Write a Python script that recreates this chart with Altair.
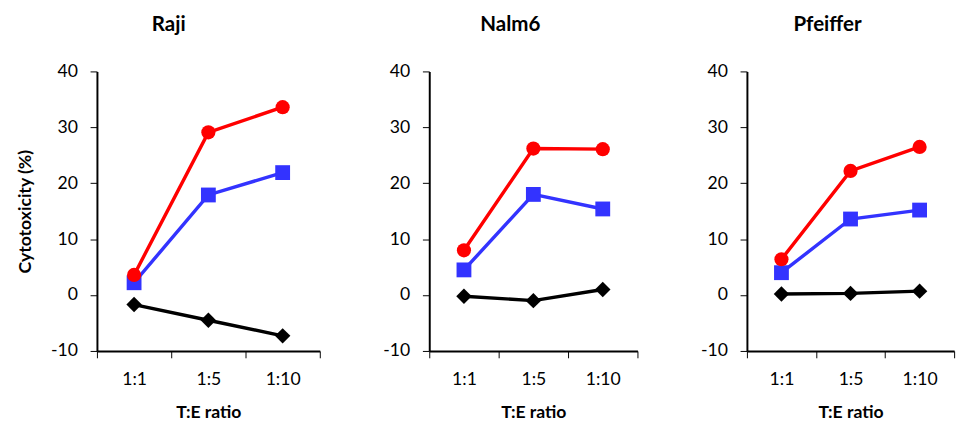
import altair as alt
import pandas as pd

panels = ["Raji", "Nalm6", "Pfeiffer"]
ratios = ["1:1", "1:5", "1:10"]
series = ["Control", "Group B", "Group A"]  # drawn black, blue, red
colors = ["#000000", "#3333FF", "#FF0000"]
shapes = ["diamond", "square", "circle"]
sizes = [250, 210, 180]

raji_black = [-1.7, -4.5, -7.3]
raji_blue = [2.2, 17.9, 21.9]
raji_red = [3.6, 29.1, 33.6]

nalm6_black = [-0.2, -1.0, 1.0]
nalm6_blue = [4.5, 18.0, 15.4]
nalm6_red = [8.0, 26.2, 26.1]

pfeiffer_black = [0.2, 0.3, 0.7]
pfeiffer_blue = [4.0, 13.6, 15.2]
pfeiffer_red = [6.4, 22.2, 26.5]

panel_values = {
    "Raji": [raji_black, raji_blue, raji_red],
    "Nalm6": [nalm6_black, nalm6_blue, nalm6_red],
    "Pfeiffer": [pfeiffer_black, pfeiffer_blue, pfeiffer_red],
}

rows = []
for p in panels:
    for s, vals in zip(series, panel_values[p]):
        for r, v in zip(ratios, vals):
            rows.append({"panel": p, "series": s, "ratio": r, "value": v})
df = pd.DataFrame(rows)

FONT = "Lato"


def panel_chart(name, width, show_ytitle):
    d = df[df.panel == name]
    yaxis_kwargs = dict(
        values=[-10, 0, 10, 20, 30, 40],
        grid=False,
        labelExpr="datum.value < 0 ? '-' + abs(datum.value) : '' + datum.value",
    )
    yaxis_kwargs["title"] = "Cytotoxicity (%)" if show_ytitle else ""
    base = alt.Chart(d).encode(
        x=alt.X(
            "ratio:O",
            sort=ratios,
            bandPosition=0.5,
            scale=alt.Scale(type="band", paddingInner=0, paddingOuter=0),
            axis=alt.Axis(title="T:E ratio", labelAngle=0, tickBand="extent"),
        ),
        y=alt.Y(
            "value:Q",
            scale=alt.Scale(domain=[-10, 40], nice=False, zero=False),
            axis=alt.Axis(**yaxis_kwargs),
        ),
        color=alt.Color("series:N", scale=alt.Scale(domain=series, range=colors), legend=None),
    )
    lines = base.mark_line(strokeWidth=3.5)
    pts = base.mark_point(filled=True, opacity=1).encode(
        shape=alt.Shape("series:N", scale=alt.Scale(domain=series, range=shapes), legend=None),
        size=alt.Size("series:N", scale=alt.Scale(domain=series, range=sizes), legend=None),
    )
    return alt.layer(lines, pts).properties(
        width=width,
        height=286,
        title=alt.TitleParams(
            name, font=FONT, fontSize=21, fontWeight="bold", color="black",
            anchor="middle", frame="bounds", offset=28,
        ),
    )


chart = alt.hconcat(
    panel_chart("Raji", 228, True),
    panel_chart("Nalm6", 213, False),
    panel_chart("Pfeiffer", 212, False),
    spacing=63,
).properties(
    padding={"left": 9, "top": 2, "right": 5, "bottom": 5},
).configure_view(stroke=None).configure_axis(
    domainColor="black",
    domainWidth=2,
    tickColor="black",
    tickWidth=1,
    tickSize=7,
    labelFont=FONT,
    labelFontSize=18,
    labelColor="black",
    labelPadding=13,
    titleFont=FONT,
    titleFontSize=18,
    titleFontWeight="bold",
    titleColor="black",
    titlePadding=16,
)

chart.save("out.html", embed_options={"renderer": "svg", "actions": False})
